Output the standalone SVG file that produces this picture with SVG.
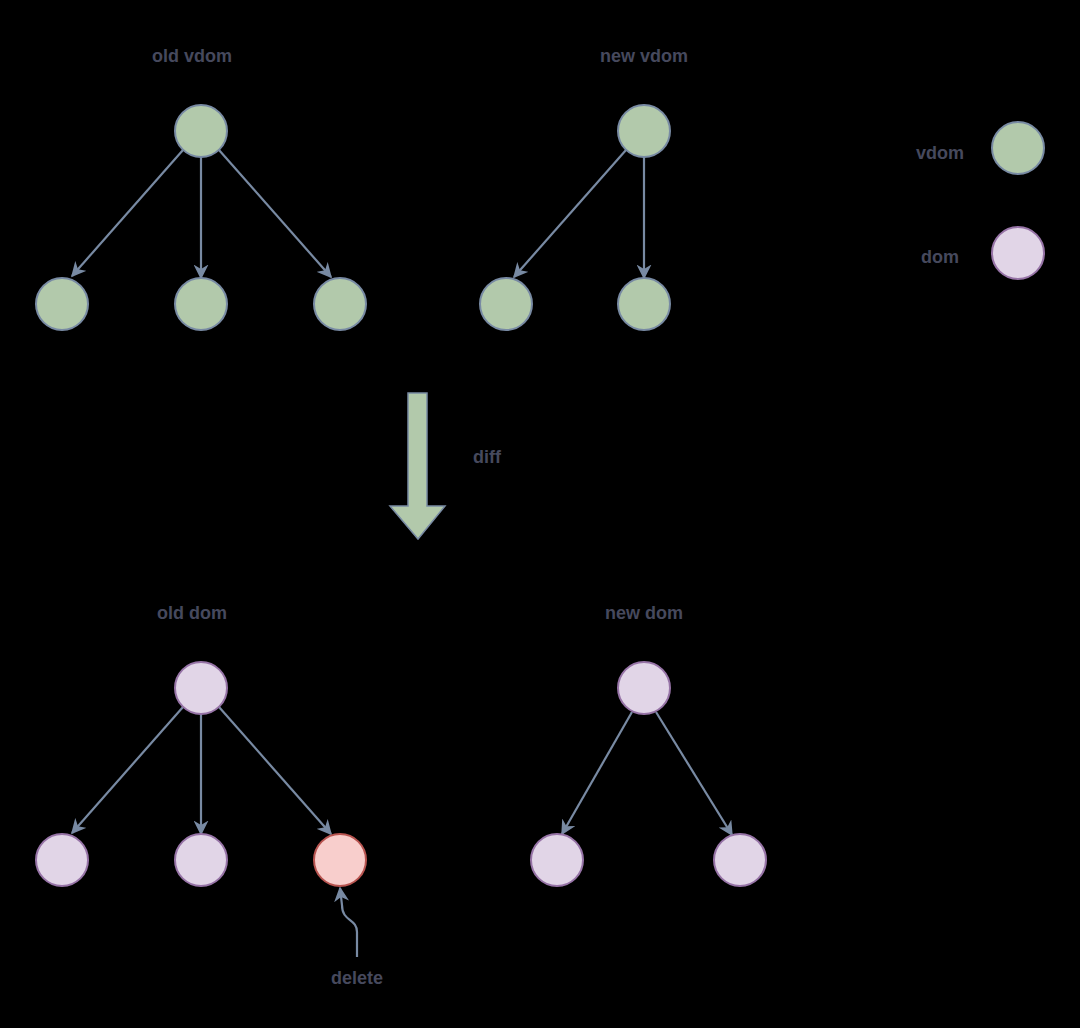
<svg xmlns="http://www.w3.org/2000/svg" width="1080" height="1028" viewBox="0 0 1080 1028">
<defs>
<style>
.t{font-family:"Liberation Sans",Arial,sans-serif;font-size:18px;font-weight:bold;fill:#46495D;text-anchor:middle}
.v{fill:#B2C9AB;stroke:#788AA3;stroke-width:2}
.d{fill:#E1D5E7;stroke:#9673A6;stroke-width:2}
.r{fill:#F8CECC;stroke:#B85450;stroke-width:2}
.e{fill:none;stroke:#788AA3;stroke-width:2.2;marker-end:url(#ah)}
</style>
<marker id="ah" viewBox="0 0 10 10" refX="9" refY="5" markerWidth="15" markerHeight="15" markerUnits="userSpaceOnUse" orient="auto">
<path d="M0,0 L10,5 L0,10 L3,5 z" fill="#788AA3"/>
</marker>
</defs>
<rect width="1080" height="1028" fill="#000"/>
<g id="labels">
<text class="t" x="192" y="62">old vdom</text>
<text class="t" x="644" y="62">new vdom</text>
<text class="t" x="940" y="159">vdom</text>
<text class="t" x="940" y="263">dom</text>
<text class="t" x="487" y="463">diff</text>
<text class="t" x="192" y="619">old dom</text>
<text class="t" x="644" y="619">new dom</text>
<text class="t" x="357" y="984">delete</text>
</g>
<g id="connectors">
<line class="e" x1="183" y1="150" x2="72" y2="276"/>
<line class="e" x1="201" y1="157" x2="201" y2="278"/>
<line class="e" x1="219" y1="150" x2="331" y2="277"/>
<line class="e" x1="626" y1="150" x2="514" y2="277"/>
<line class="e" x1="644" y1="157" x2="644" y2="278"/>
<line class="e" x1="183" y1="707" x2="72" y2="833"/>
<line class="e" x1="201" y1="714" x2="201" y2="834"/>
<line class="e" x1="219" y1="707" x2="331" y2="834"/>
<line class="e" x1="632" y1="712" x2="562" y2="834"/>
<line class="e" x1="656" y1="712" x2="732" y2="835"/>
<path class="e" d="M357,957 L357,932 C357,918 342,922 342,905 L340,888"/>
<path id="diff-arrow" d="M408,393 L427,393 L427,506 L445,506 L418,539 L390,506 L408,506 Z" fill="#B2C9AB" stroke="#788AA3" stroke-width="1.5"/>
</g>
<g id="old-vdom">
<circle class="v" cx="201" cy="131" r="26"/>
<circle class="v" cx="62" cy="304" r="26"/>
<circle class="v" cx="201" cy="304" r="26"/>
<circle class="v" cx="340" cy="304" r="26"/>
</g>
<g id="new-vdom">
<circle class="v" cx="644" cy="131" r="26"/>
<circle class="v" cx="506" cy="304" r="26"/>
<circle class="v" cx="644" cy="304" r="26"/>
</g>
<g id="legend">
<circle class="v" cx="1018" cy="148" r="26"/>
<circle class="d" cx="1018" cy="253" r="26"/>
</g>
<g id="old-dom">
<circle class="d" cx="201" cy="688" r="26"/>
<circle class="d" cx="62" cy="860" r="26"/>
<circle class="d" cx="201" cy="860" r="26"/>
<circle class="r" cx="340" cy="860" r="26"/>
</g>
<g id="new-dom">
<circle class="d" cx="644" cy="688" r="26"/>
<circle class="d" cx="557" cy="860" r="26"/>
<circle class="d" cx="740" cy="860" r="26"/>
</g>
</svg>
